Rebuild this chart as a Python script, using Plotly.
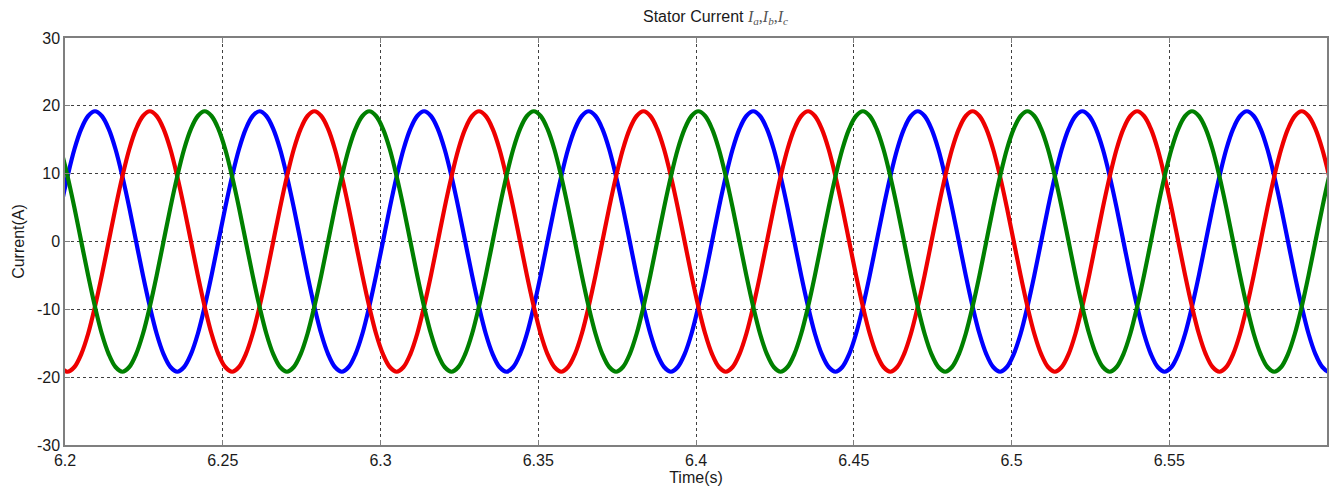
import plotly.graph_objects as go

# ---- data (samples every ~1/24 period) ----
time_s = [
    6.19646, 6.19863, 6.20081, 6.20298, 6.20515, 6.20733,
    6.20950, 6.21167, 6.21385, 6.21602, 6.21819, 6.22037, 6.22254, 6.22471, 6.22689, 6.22906, 6.23123, 6.23341,
    6.23558, 6.23775, 6.23993, 6.24210, 6.24427, 6.24645, 6.24862, 6.25079, 6.25296, 6.25514, 6.25731, 6.25948,
    6.26166, 6.26383, 6.26600, 6.26818, 6.27035, 6.27252, 6.27470, 6.27687, 6.27904, 6.28122, 6.28339, 6.28556,
    6.28774, 6.28991, 6.29208, 6.29426, 6.29643, 6.29860, 6.30078, 6.30295, 6.30512, 6.30730, 6.30947, 6.31164,
    6.31381, 6.31599, 6.31816, 6.32033, 6.32251, 6.32468, 6.32685, 6.32903, 6.33120, 6.33337, 6.33555, 6.33772,
    6.33989, 6.34207, 6.34424, 6.34641, 6.34859, 6.35076, 6.35293, 6.35511, 6.35728, 6.35945, 6.36163, 6.36380,
    6.36597, 6.36815, 6.37032, 6.37249, 6.37466, 6.37684, 6.37901, 6.38118, 6.38336, 6.38553, 6.38770, 6.38988,
    6.39205, 6.39422, 6.39640, 6.39857, 6.40074, 6.40292, 6.40509, 6.40726, 6.40944, 6.41161, 6.41378, 6.41596,
    6.41813, 6.42030, 6.42248, 6.42465, 6.42682, 6.42900, 6.43117, 6.43334, 6.43552, 6.43769, 6.43986, 6.44204,
    6.44421, 6.44638, 6.44855, 6.45073, 6.45290, 6.45507, 6.45725, 6.45942, 6.46159, 6.46377, 6.46594, 6.46811,
    6.47029, 6.47246, 6.47463, 6.47681, 6.47898, 6.48115, 6.48333, 6.48550, 6.48767, 6.48985, 6.49202, 6.49419,
    6.49637, 6.49854, 6.50071, 6.50289, 6.50506, 6.50723, 6.50940, 6.51158, 6.51375, 6.51592, 6.51810, 6.52027,
    6.52244, 6.52462, 6.52679, 6.52896, 6.53114, 6.53331, 6.53548, 6.53766, 6.53983, 6.54200, 6.54418, 6.54635,
    6.54852, 6.55070, 6.55287, 6.55504, 6.55721, 6.55939, 6.56156, 6.56373, 6.56591, 6.56808, 6.57025, 6.57243,
    6.57460, 6.57677, 6.57895, 6.58112, 6.58329, 6.58547, 6.58764, 6.58981, 6.59199, 6.59416, 6.59633, 6.59851,
    6.60068, 6.60285, 6.60503,
]

current_a = [
    0, 5.0, 9.6, 13.6, 16.6, 18.5, 19.2, 18.5, 16.6, 13.6, 9.6, 5.0, 0, -5.0, -9.6, -13.6, -16.6, -18.5, -19.2, -18.5, -16.6, -13.6, -9.6, -5.0,
    0, 5.0, 9.6, 13.6, 16.6, 18.5, 19.2, 18.5, 16.6, 13.6, 9.6, 5.0, 0, -5.0, -9.6, -13.6, -16.6, -18.5, -19.2, -18.5, -16.6, -13.6, -9.6, -5.0,
    0, 5.0, 9.6, 13.6, 16.6, 18.5, 19.2, 18.5, 16.6, 13.6, 9.6, 5.0, 0, -5.0, -9.6, -13.6, -16.6, -18.5, -19.2, -18.5, -16.6, -13.6, -9.6, -5.0,
    0, 5.0, 9.6, 13.6, 16.6, 18.5, 19.2, 18.5, 16.6, 13.6, 9.6, 5.0, 0, -5.0, -9.6, -13.6, -16.6, -18.5, -19.2, -18.5, -16.6, -13.6, -9.6, -5.0,
    0, 5.0, 9.6, 13.6, 16.6, 18.5, 19.2, 18.5, 16.6, 13.6, 9.6, 5.0, 0, -5.0, -9.6, -13.6, -16.6, -18.5, -19.2, -18.5, -16.6, -13.6, -9.6, -5.0,
    0, 5.0, 9.6, 13.6, 16.6, 18.5, 19.2, 18.5, 16.6, 13.6, 9.6, 5.0, 0, -5.0, -9.6, -13.6, -16.6, -18.5, -19.2, -18.5, -16.6, -13.6, -9.6, -5.0,
    0, 5.0, 9.6, 13.6, 16.6, 18.5, 19.2, 18.5, 16.6, 13.6, 9.6, 5.0, 0, -5.0, -9.6, -13.6, -16.6, -18.5, -19.2, -18.5, -16.6, -13.6, -9.6, -5.0,
    0, 5.0, 9.6, 13.6, 16.6, 18.5, 19.2, 18.5, 16.6, 13.6, 9.6, 5.0, 0, -5.0, -9.6, -13.6, -16.6, -18.5, -19.2, -18.5, -16.6,
]

current_b = [
    -16.6, -18.5, -19.2, -18.5, -16.6, -13.6, -9.6, -5.0, 0, 5.0, 9.6, 13.6, 16.6, 18.5, 19.2, 18.5, 16.6, 13.6, 9.6, 5.0, 0, -5.0, -9.6, -13.6,
    -16.6, -18.5, -19.2, -18.5, -16.6, -13.6, -9.6, -5.0, 0, 5.0, 9.6, 13.6, 16.6, 18.5, 19.2, 18.5, 16.6, 13.6, 9.6, 5.0, 0, -5.0, -9.6, -13.6,
    -16.6, -18.5, -19.2, -18.5, -16.6, -13.6, -9.6, -5.0, 0, 5.0, 9.6, 13.6, 16.6, 18.5, 19.2, 18.5, 16.6, 13.6, 9.6, 5.0, 0, -5.0, -9.6, -13.6,
    -16.6, -18.5, -19.2, -18.5, -16.6, -13.6, -9.6, -5.0, 0, 5.0, 9.6, 13.6, 16.6, 18.5, 19.2, 18.5, 16.6, 13.6, 9.6, 5.0, 0, -5.0, -9.6, -13.6,
    -16.6, -18.5, -19.2, -18.5, -16.6, -13.6, -9.6, -5.0, 0, 5.0, 9.6, 13.6, 16.6, 18.5, 19.2, 18.5, 16.6, 13.6, 9.6, 5.0, 0, -5.0, -9.6, -13.6,
    -16.6, -18.5, -19.2, -18.5, -16.6, -13.6, -9.6, -5.0, 0, 5.0, 9.6, 13.6, 16.6, 18.5, 19.2, 18.5, 16.6, 13.6, 9.6, 5.0, 0, -5.0, -9.6, -13.6,
    -16.6, -18.5, -19.2, -18.5, -16.6, -13.6, -9.6, -5.0, 0, 5.0, 9.6, 13.6, 16.6, 18.5, 19.2, 18.5, 16.6, 13.6, 9.6, 5.0, 0, -5.0, -9.6, -13.6,
    -16.6, -18.5, -19.2, -18.5, -16.6, -13.6, -9.6, -5.0, 0, 5.0, 9.6, 13.6, 16.6, 18.5, 19.2, 18.5, 16.6, 13.6, 9.6, 5.0, 0,
]

current_c = [
    16.6, 13.6, 9.6, 5.0, 0, -5.0, -9.6, -13.6, -16.6, -18.5, -19.2, -18.5, -16.6, -13.6, -9.6, -5.0, 0, 5.0, 9.6, 13.6, 16.6, 18.5, 19.2, 18.5,
    16.6, 13.6, 9.6, 5.0, 0, -5.0, -9.6, -13.6, -16.6, -18.5, -19.2, -18.5, -16.6, -13.6, -9.6, -5.0, 0, 5.0, 9.6, 13.6, 16.6, 18.5, 19.2, 18.5,
    16.6, 13.6, 9.6, 5.0, 0, -5.0, -9.6, -13.6, -16.6, -18.5, -19.2, -18.5, -16.6, -13.6, -9.6, -5.0, 0, 5.0, 9.6, 13.6, 16.6, 18.5, 19.2, 18.5,
    16.6, 13.6, 9.6, 5.0, 0, -5.0, -9.6, -13.6, -16.6, -18.5, -19.2, -18.5, -16.6, -13.6, -9.6, -5.0, 0, 5.0, 9.6, 13.6, 16.6, 18.5, 19.2, 18.5,
    16.6, 13.6, 9.6, 5.0, 0, -5.0, -9.6, -13.6, -16.6, -18.5, -19.2, -18.5, -16.6, -13.6, -9.6, -5.0, 0, 5.0, 9.6, 13.6, 16.6, 18.5, 19.2, 18.5,
    16.6, 13.6, 9.6, 5.0, 0, -5.0, -9.6, -13.6, -16.6, -18.5, -19.2, -18.5, -16.6, -13.6, -9.6, -5.0, 0, 5.0, 9.6, 13.6, 16.6, 18.5, 19.2, 18.5,
    16.6, 13.6, 9.6, 5.0, 0, -5.0, -9.6, -13.6, -16.6, -18.5, -19.2, -18.5, -16.6, -13.6, -9.6, -5.0, 0, 5.0, 9.6, 13.6, 16.6, 18.5, 19.2, 18.5,
    16.6, 13.6, 9.6, 5.0, 0, -5.0, -9.6, -13.6, -16.6, -18.5, -19.2, -18.5, -16.6, -13.6, -9.6, -5.0, 0, 5.0, 9.6, 13.6, 16.6,
]

x_tickvals = [6.2, 6.25, 6.3, 6.35, 6.4, 6.45, 6.5, 6.55]
x_ticktext = ["6.2", "6.25", "6.3", "6.35", "6.4", "6.45", "6.5", "6.55"]
y_tickvals = [-30, -20, -10, 0, 10, 20, 30]
y_ticktext = ["-30", "-20", "-10", "0", "10", "20", "30"]

series = [
    ("Ia", current_a, "#0000ff"),
    ("Ib", current_b, "#ee0000"),
    ("Ic", current_c, "#008000"),
]

fig = go.Figure()
for name, vals, col in series:
    fig.add_trace(go.Scatter(
        x=time_s, y=vals, mode="lines", name=name,
        line=dict(color=col, width=4.2, shape="spline", smoothing=1.0),
    ))

font_family = "Liberation Sans, Arial, sans-serif"
txt_col = "#1a1a1a"
axis_common = dict(
    showline=True, linecolor="#7f7f7f", linewidth=1.5, mirror="ticks",
    ticks="inside", ticklen=5, tickcolor="#7f7f7f",
    showgrid=True, gridcolor="#404040", griddash="dot", gridwidth=1,
    zeroline=False, automargin=False,
    tickfont=dict(family=font_family, size=16, color=txt_col),
)

# The page body adds an 8px offset; the figure is sized to fit the window.
fig.update_layout(
    width=1335, height=485,
    paper_bgcolor="white", plot_bgcolor="white",
    margin=dict(l=57, r=16, t=30, b=48),
    showlegend=False,
    title=dict(
        text="Stator Current <span style='font-family:\"Liberation Serif\", \"Times New Roman\", serif; color:#555555'>"
             "<i>I<sub>a</sub></i>,<i>I<sub>b</sub></i>,<i>I<sub>c</sub></i></span>",
        x=0.530, xanchor="center", y=0.995, yanchor="top",
        font=dict(family=font_family, size=16, color=txt_col),
    ),
    xaxis=dict(
        range=[6.2, 6.6], tickmode="array", tickvals=x_tickvals, ticktext=x_ticktext,
        title=dict(text="Time(s)", font=dict(family=font_family, size=16, color=txt_col), standoff=0),
        **axis_common,
    ),
    yaxis=dict(
        range=[-30, 30], tickmode="array", tickvals=y_tickvals, ticktext=y_ticktext,
        title=dict(text="Current(A)", font=dict(family=font_family, size=16, color=txt_col), standoff=8),
        **axis_common,
    ),
)

fig.write_html("out.html")
